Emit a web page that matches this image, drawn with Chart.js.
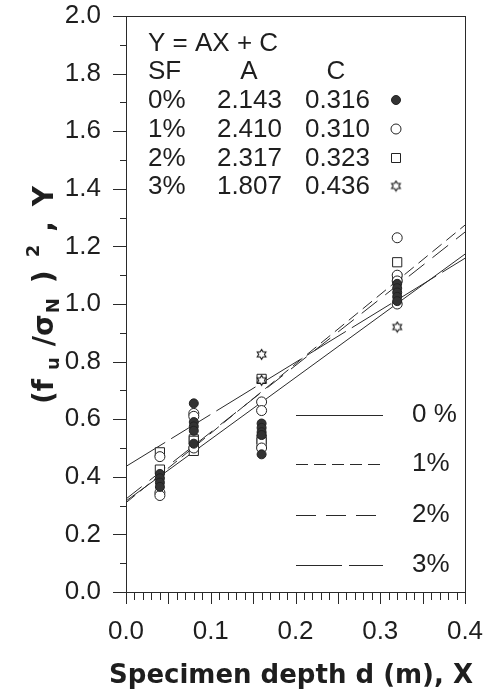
<!DOCTYPE html>
<html><head><meta charset="utf-8">
<script src="https://cdn.jsdelivr.net/npm/chart.js@4.4.0/dist/chart.umd.min.js"></script>
<style>html,body{margin:0;padding:0;background:#fff;}canvas{display:block;}</style>
</head><body>
<canvas id="c" width="487" height="693"></canvas>
<script>
// ---- data ----
const sfLabels = ['0%', '1%', '2%', '3%'];
const legendLabels = ['0 %', '1%', '2%', '3%'];
const coefA = [2.143, 2.410, 2.317, 1.807];
const coefC = [0.316, 0.310, 0.323, 0.436];
const coefAText = ['2.143', '2.410', '2.317', '1.807'];
const coefCText = ['0.316', '0.310', '0.323', '0.436'];
const lineX = [0.0, 0.4];

const sf0X = [0.04,0.04,0.04,0.04, 0.08,0.08,0.08,0.08,0.08, 0.16,0.16,0.16,0.16,0.16, 0.32,0.32,0.32,0.32,0.32];
const sf0Y = [0.41,0.395,0.38,0.365, 0.655,0.59,0.575,0.56,0.515, 0.585,0.57,0.555,0.545,0.478, 1.07,1.055,1.04,1.025,1.01];
const sf1X = [0.04,0.04,0.04, 0.08,0.08,0.08, 0.16,0.16,0.16, 0.32,0.32,0.32,0.32];
const sf1Y = [0.47,0.345,0.335, 0.62,0.61,0.50, 0.66,0.63,0.50, 1.23,1.10,1.08,1.00];
const sf2X = [0.04,0.04, 0.08,0.08,0.08, 0.16,0.16,0.16, 0.32,0.32];
const sf2Y = [0.485,0.425, 0.53,0.525,0.49, 0.74,0.53,0.52, 1.145,1.09];
const sf3X = [0.16,0.16, 0.32];
const sf3Y = [0.825,0.735, 0.92];

const xTickLabels = ['0.0','0.1','0.2','0.3','0.4'];
const yTickLabels = ['0.0','0.2','0.4','0.6','0.8','1.0','1.2','1.4','1.6','1.8','2.0'];
const xTitle = 'Specimen depth d (m), X';

// ---- styles ----
const INK = '#1e1e1e';
const FONT = "'Liberation Sans', Arial, Helvetica, sans-serif";
const BOLD = "'DejaVu Sans', 'Liberation Sans', Arial, sans-serif";
const dashes = [[], [12, 6], [20, 10], [46, 7]];

function makeStar() {
  const c = document.createElement('canvas'); c.width = 13; c.height = 13;
  const g = c.getContext('2d');
  g.strokeStyle = '#111'; g.lineWidth = 1.1; g.fillStyle = '#fff';
  const cx = 6.5, cy = 6.5, R = 5, r = 2.9;
  g.beginPath();
  for (let k = 0; k < 12; k++) {
    const ang = -Math.PI / 2 + k * Math.PI / 6;
    const rr = k % 2 ? r : R;
    const px = cx + rr * Math.cos(ang), py = cy + rr * Math.sin(ang);
    if (k) g.lineTo(px, py); else g.moveTo(px, py);
  }
  g.closePath(); g.fill(); g.stroke();
  return c;
}
const starImg = makeStar();

const pts = (xs, ys) => xs.map((x, i) => ({x: x, y: ys[i]}));

const markerStyles = [
  {pointStyle: 'circle', pointRadius: 4.5, pointBackgroundColor: '#333', pointBorderColor: '#222', order: 3},
  {pointStyle: 'circle', pointRadius: 5, pointBackgroundColor: '#fff', pointBorderColor: '#222', order: 4},
  {pointStyle: 'rect', pointRadius: 6.5, pointBackgroundColor: '#fff', pointBorderColor: '#222', order: 5},
  {pointStyle: starImg, pointRadius: 6, pointBackgroundColor: '#fff', pointBorderColor: '#222', order: 2}
];
const seriesX = [sf0X, sf1X, sf2X, sf3X];
const seriesY = [sf0Y, sf1Y, sf2Y, sf3Y];

const datasets = [];
sfLabels.forEach((lab, i) => {
  datasets.push(Object.assign({
    label: lab + ' data', type: 'scatter', data: pts(seriesX[i], seriesY[i]),
    pointBorderWidth: 1, showLine: false
  }, markerStyles[i]));
});
sfLabels.forEach((lab, i) => {
  datasets.push({
    label: lab + ' fit', type: 'line',
    data: lineX.map(x => ({x: x, y: coefA[i] * x + coefC[i]})),
    borderColor: '#2a2a2a', borderWidth: 1, borderDash: dashes[i],
    pointRadius: 0, fill: false, tension: 0, order: 10
  });
});

function drawMarker(ctx, i, x, y) {
  ctx.save();
  ctx.lineWidth = 1; ctx.strokeStyle = '#222';
  if (i === 0) { ctx.fillStyle = '#333'; ctx.beginPath(); ctx.arc(x, y, 4.5, 0, 2 * Math.PI); ctx.fill(); ctx.stroke(); }
  else if (i === 1) { ctx.fillStyle = '#fff'; ctx.beginPath(); ctx.arc(x, y, 5, 0, 2 * Math.PI); ctx.fill(); ctx.stroke(); }
  else if (i === 2) { ctx.fillStyle = '#fff'; ctx.beginPath(); ctx.rect(x - 4.5, y - 4.5, 9, 9); ctx.fill(); ctx.stroke(); }
  else { ctx.drawImage(starImg, x - 6.5, y - 6.5); }
  ctx.restore();
}

const decor = {
  id: 'decor',
  afterDraw(chart) {
    const ctx = chart.ctx, a = chart.chartArea, xs = chart.scales.x, ys = chart.scales.y;
    ctx.save();
    // frame
    ctx.strokeStyle = '#2a2a2a'; ctx.lineWidth = 1;
    ctx.strokeRect(Math.round(a.left) + 0.5, Math.round(a.top) + 0.5, Math.round(a.right - a.left), Math.round(a.bottom - a.top));
    // ticks
    ctx.beginPath();
    for (let i = 0; i <= 40; i++) {
      const px = Math.round(xs.getPixelForValue(i / 100)) + 0.5;
      const len = (i % 5 === 0) ? 12 : 8;
      ctx.moveTo(px, a.bottom); ctx.lineTo(px, a.bottom + len);
    }
    for (let i = 0; i <= 20; i++) {
      const py = Math.round(ys.getPixelForValue(i / 10)) + 0.5;
      const len = (i % 2 === 0) ? 13 : 6;
      ctx.moveTo(a.left, py); ctx.lineTo(a.left - len, py);
    }
    ctx.stroke();

    // equation table
    ctx.fillStyle = INK;
    ctx.font = '26px ' + FONT;
    ctx.textBaseline = 'alphabetic';
    const x0 = a.left + 22, xA = a.left + 156, xC = a.left + 244;
    const rowBase = [51, 79, 108, 137, 166, 194];
    ctx.textAlign = 'left';
    ctx.fillText('Y = AX + C', x0, rowBase[0]);
    ctx.fillText('SF', x0, rowBase[1]);
    ctx.textAlign = 'center';
    ctx.fillText('A', xA - 33, rowBase[1]);
    ctx.fillText('C', xC - 34, rowBase[1]);
    sfLabels.forEach((lab, i) => {
      const yb = rowBase[i + 2];
      ctx.textAlign = 'left'; ctx.fillText(lab, x0, yb);
      ctx.textAlign = 'right'; ctx.fillText(coefAText[i], xA, yb);
      ctx.fillText(coefCText[i], xC, yb);
      drawMarker(ctx, i, a.left + 270, yb - 8);
    });

    // line legend
    const legY = [415, 464, 515, 565];
    legendLabels.forEach((lab, i) => {
      ctx.save();
      ctx.strokeStyle = '#2a2a2a'; ctx.lineWidth = 1; ctx.setLineDash(dashes[i]);
      ctx.beginPath(); ctx.moveTo(a.left + 170, legY[i] + 0.5); ctx.lineTo(a.left + 257, legY[i] + 0.5); ctx.stroke();
      ctx.restore();
      ctx.textAlign = 'left'; ctx.textBaseline = 'middle';
      ctx.fillText(lab, a.left + 286, legY[i]);
    });

    // x title
    ctx.font = 'bold 26px ' + BOLD;
    ctx.textAlign = 'center'; ctx.textBaseline = 'alphabetic';
    ctx.fillText(xTitle, 291, 683);

    // y title with sub/superscripts, rotated
    const segs = [
      {t: '(f', s: 28, dy: 0, gap: 9},
      {t: 'u', s: 18, dy: 6, gap: 11},
      {t: '/σ', s: 28, dy: 0, gap: 1},
      {t: 'N', s: 18, dy: 6, gap: 15},
      {t: ')', s: 28, dy: 0, gap: 13},
      {t: '2', s: 18, dy: -14, gap: 13},
      {t: ',', s: 28, dy: 0, gap: 15},
      {t: 'Y', s: 28, dy: 0, gap: 0}
    ];
    let total = 0;
    segs.forEach(sg => { ctx.font = 'bold ' + sg.s + 'px ' + BOLD; sg.w = ctx.measureText(sg.t).width; total += sg.w + sg.gap; });
    ctx.translate(53, 295);
    ctx.rotate(-Math.PI / 2);
    ctx.textAlign = 'left'; ctx.textBaseline = 'alphabetic';
    let cx = -total / 2;
    segs.forEach(sg => {
      ctx.font = 'bold ' + sg.s + 'px ' + BOLD;
      ctx.fillText(sg.t, cx, sg.dy);
      cx += sg.w + sg.gap;
    });
    ctx.restore();
  }
};

new Chart(document.getElementById('c'), {
  type: 'scatter',
  data: {datasets: datasets},
  options: {
    responsive: false, animation: false, devicePixelRatio: 1,
    layout: {padding: {top: 16, right: 22, left: 0, bottom: 0}},
    plugins: {legend: {display: false}, tooltip: {enabled: false}},
    scales: {
      x: {
        type: 'linear', min: 0, max: 0.4,
        afterBuildTicks: s => { s.ticks = xTickLabels.map(l => ({value: parseFloat(l)})); },
        afterFit: s => { s.height = 101; s.paddingLeft = 0; s.paddingRight = 0; s.paddingTop = 0; s.paddingBottom = 0; },
        ticks: {callback: (v, i) => xTickLabels[i], font: {family: FONT, size: 26}, color: INK, padding: 24, maxRotation: 0, autoSkip: false},
        grid: {display: false, drawTicks: false, tickLength: 0},
        border: {display: false}
      },
      y: {
        type: 'linear', min: 0, max: 2.0,
        afterBuildTicks: s => { s.ticks = yTickLabels.map(l => ({value: parseFloat(l)})); },
        afterFit: s => { s.width = 126; s.paddingLeft = 0; s.paddingRight = 0; s.paddingTop = 0; s.paddingBottom = 0; },
        ticks: {callback: (v, i) => yTickLabels[i], font: {family: FONT, size: 26}, color: INK, padding: 25, autoSkip: false},
        grid: {display: false, drawTicks: false, tickLength: 0},
        border: {display: false}
      }
    }
  },
  plugins: [decor]
});
</script>
</body></html>
